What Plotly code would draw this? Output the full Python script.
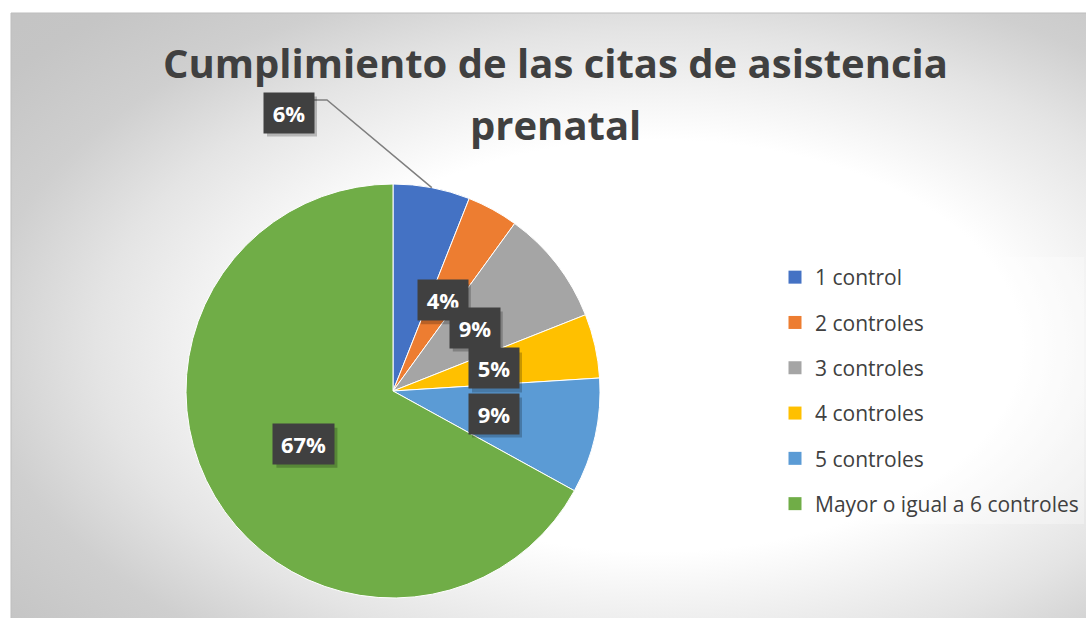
import math
import base64
import plotly.graph_objects as go

# datos
categorias = ["1 control", "2 controles", "3 controles", "4 controles",
              "5 controles", "Mayor o igual a 6 controles"]
porcentajes = [6, 4, 9, 5, 9, 67]
colores = ["#4472C4", "#ED7D31", "#A5A5A5", "#FFC000", "#5B9BD5", "#70AD47"]
titulo = ["Cumplimiento de las citas de asistencia", "prenatal"]

W, H = 1086, 618
FONT = "Open Sans"


def px(x):
    return x / W


def py(y):
    return 1 - y / H


# geometría del pastel (pixeles)
cx, cy, r = 393, 391, 207

fig = go.Figure()
fig.add_trace(go.Pie(
    labels=categorias, values=porcentajes,
    marker=dict(colors=colores, line=dict(color="white", width=1)),
    sort=False, direction="clockwise", rotation=0,
    textinfo="none", hoverinfo="label+percent",
    showlegend=False,
    domain=dict(x=[px(cx - r), px(cx + r)], y=[py(cy + r), py(cy - r)]),
))

# leyenda con cuadrados
for cat, col in zip(categorias, colores):
    fig.add_trace(go.Scatter(
        x=[None], y=[None], mode="markers", name=cat, legendgroup=cat,
        marker=dict(symbol="square", size=13, color=col),
    ))

# fondo con degradado radial
svg = (
    '<svg xmlns="http://www.w3.org/2000/svg" width="1075" height="605">'
    '<defs><radialGradient id="g" cx="0.6" cy="0.55" r="1">'
    '<stop offset="0" stop-color="#ffffff"/>'
    '<stop offset="0.34" stop-color="#ffffff"/>'
    '<stop offset="0.52" stop-color="#e4e4e4"/>'
    '<stop offset="0.63" stop-color="#cfcfcf"/>'
    '<stop offset="0.75" stop-color="#c5c5c5"/>'
    '<stop offset="1" stop-color="#c0c0c0"/>'
    '</radialGradient></defs>'
    '<rect width="1075" height="605" fill="url(#g)"/></svg>'
)
src = "data:image/svg+xml;base64," + base64.b64encode(svg.encode()).decode()

annotations = []
shapes = [dict(type="rect", xref="paper", yref="paper",
               x0=px(11), y0=py(13), x1=1.01, y1=-0.01,
               line=dict(color="#bdbdbd", width=1), layer="below")]


def etiqueta(x, y, texto):
    w = 61 if len(texto) > 2 else 50
    # sombra
    shapes.append(dict(
        type="rect", xref="paper", yref="paper",
        xsizemode="pixel", ysizemode="pixel", xanchor=x, yanchor=y,
        x0=-w / 2 + 3, x1=w / 2 + 3, y0=-20 - 4, y1=20 - 4,
        fillcolor="rgba(0,0,0,0.22)", line=dict(width=0),
    ))
    annotations.append(dict(
        x=x, y=y, xref="paper", yref="paper", showarrow=False,
        text="<b>%s</b>" % texto,
        font=dict(family=FONT, size=22, color="white"),
        bgcolor="#404040", width=w - 4, height=36, borderpad=2,
        xanchor="center", yanchor="middle",
    ))


total = sum(porcentajes)
acum = 0
for i, v in enumerate(porcentajes):
    mid = (acum + v / 2) / total * 2 * math.pi
    acum += v
    texto = "%d%%" % round(v / total * 100)
    if i == 0:
        # etiqueta desplazada con línea guía
        bx, by = 289, 112.5
        ex, ey = cx + r * math.sin(mid), cy - r * math.cos(mid)
        shapes.append(dict(
            type="path", xref="paper", yref="paper",
            path="M %f %f L %f %f L %f %f" % (px(ex), py(ey), px(327), py(100),
                                              px(314), py(100)),
            line=dict(color="#7f7f7f", width=1.5),
        ))
        etiqueta(px(bx), py(by), texto)
    else:
        lx = cx + 0.5 * r * math.sin(mid)
        ly = cy - 0.5 * r * math.cos(mid)
        etiqueta(px(lx), py(ly), texto)

for linea, yy in zip(titulo, [63, 125]):
    annotations.append(dict(
        x=px(555), y=py(yy), xref="paper", yref="paper", showarrow=False,
        text="<b>%s</b>" % linea, xanchor="center", yanchor="middle",
        font=dict(family=FONT, size=40, color="#404040"),
    ))

fig.update_layout(
    width=W, height=H, autosize=False,
    margin=dict(l=0, r=0, t=0, b=0),
    paper_bgcolor="white", plot_bgcolor="rgba(0,0,0,0)",
    xaxis=dict(visible=False), yaxis=dict(visible=False),
    images=[dict(source=src, xref="paper", yref="paper", x=px(11), y=py(13),
                 sizex=px(W - 11), sizey=py(13),
                 sizing="stretch", xanchor="left", yanchor="top", layer="below")],
    shapes=shapes,
    annotations=annotations,
    legend=dict(x=px(775), y=py(257), xanchor="left", yanchor="top",
                font=dict(family=FONT, size=21, color="#404040"),
                bgcolor="rgba(255,255,255,0.3)", tracegroupgap=15,
                itemclick=False),
)

fig.write_html("out.html", config=dict(displayModeBar=False),
               post_script="document.body.style.margin='0';")
